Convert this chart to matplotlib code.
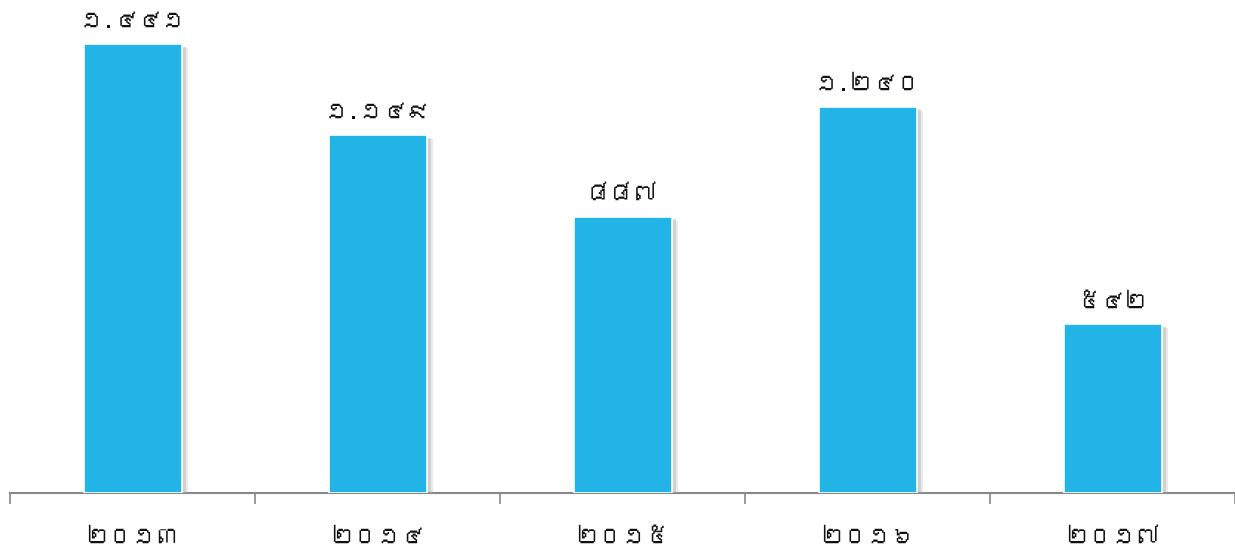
import matplotlib
matplotlib.use('Agg')
import matplotlib.pyplot as plt
import matplotlib.patheffects as pe
from matplotlib import font_manager, ft2font

# data
years = ['២០១៣', '២០១៤', '២០១៥', '២០១៦', '២០១៧']
values = [1441, 1149, 887, 1240, 542]
value_labels = ['១.៤៤១', '១.១៤៩', '៨៨៧', '១.២៤០', '៥៤២']

# look for a font that has khmer digits
khmer_font = None
for f in font_manager.fontManager.ttflist:
    try:
        cmap = ft2font.FT2Font(f.fname).get_charmap()
    except Exception:
        continue
    if 0x17E1 in cmap and 0x17E4 in cmap:
        khmer_font = f.name
        break
families = [khmer_font, 'DejaVu Sans'] if khmer_font else ['DejaVu Sans']
plt.rcParams['font.family'] = families

fig = plt.figure(figsize=(12.35, 5.47), dpi=100)
ax = fig.add_axes([10 / 1235, 54 / 547, 1 - 10 / 1235, 493 / 547])

bar_color = '#22B4E6'
bars = ax.bar(range(len(values)), values, width=0.40, color=bar_color,
              edgecolor='white', linewidth=1.2, zorder=3)
for b in bars:
    b.set_path_effects([pe.SimplePatchShadow(offset=(3, -2), shadow_rgbFace='#999999', alpha=0.35),
                        pe.SimplePatchShadow(offset=(5, -3), shadow_rgbFace='#bbbbbb', alpha=0.3),
                        pe.Normal()])

for i, (v, lab) in enumerate(zip(values, value_labels)):
    ax.text(i, v + 40, lab, ha='center', va='bottom', fontsize=17, color='#111111')

ax.set_xlim(-0.5, 4.5)
ax.set_ylim(0, 1582)
ax.set_yticks([])
for s in ['top', 'right', 'left']:
    ax.spines[s].set_visible(False)
ax.spines['bottom'].set_color('#888888')
ax.spines['bottom'].set_linewidth(1.5)

ax.set_xticks([i - 0.5 for i in range(len(values) + 1)])
ax.set_xticklabels([])
ax.set_xticks(range(len(values)), minor=True)
ax.set_xticklabels(years, minor=True, fontsize=17, color='#111111')
ax.tick_params(axis='x', which='major', length=8, width=1.2, color='#888888', direction='out')
ax.tick_params(axis='x', which='minor', length=0, pad=25)

fig.savefig('out.png', dpi=100)
